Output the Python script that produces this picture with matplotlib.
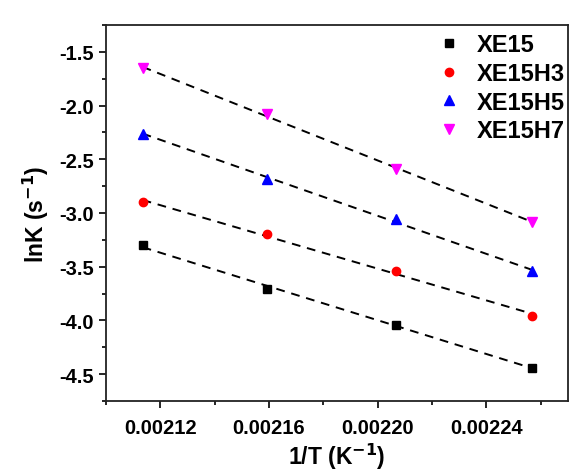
import numpy as np
import matplotlib.pyplot as plt
from matplotlib.ticker import MultipleLocator

plt.rcParams['font.family'] = ['Liberation Sans', 'DejaVu Sans']
plt.rcParams['font.weight'] = 'bold'

# 1/T for 473.15, 463.15, 453.15, 443.15 K
temps = [473.15, 463.15, 453.15, 443.15]
inv_t = [1.0 / t for t in temps]

xe15 = [-3.30, -3.71, -4.04, -4.44]
xe15h3 = [-2.90, -3.20, -3.54, -3.96]
xe15h5 = [-2.26, -2.68, -3.06, -3.54]
xe15h7 = [-1.65, -2.08, -2.59, -3.08]

series = [
    ('XE15', xe15, 's', 'black', 6),
    ('XE15H3', xe15h3, 'o', 'red', 6),
    ('XE15H5', xe15h5, '^', 'blue', 7),
    ('XE15H7', xe15h7, 'v', 'magenta', 7),
]

fig = plt.figure(figsize=(5.70, 4.77), dpi=100)
ax = fig.add_axes([106 / 570, 1 - 402 / 477, 462 / 570, 376 / 477])

x = np.array(inv_t)
for name, vals, mk, col, size in series:
    # linear fit line (Arrhenius)
    k, b = np.polyfit(x, vals, 1)
    ax.plot(x, k * x + b, '--', color='black', lw=1.4, dashes=(4.5, 3.5), zorder=1)
    ax.plot(x, vals, mk, color=col, ms=size, ls='none', label=name, zorder=2)

ax.set_xlim(0.00210, 0.00227)
ax.set_ylim(-4.75, -1.25)
ax.xaxis.set_major_locator(MultipleLocator(0.00004))
ax.xaxis.set_minor_locator(MultipleLocator(0.00002))
ax.yaxis.set_major_locator(MultipleLocator(0.5))
ax.yaxis.set_minor_locator(MultipleLocator(0.25))
ax.xaxis.set_major_formatter(plt.FuncFormatter(lambda v, p: f'{v:.5f}'))
ax.yaxis.set_major_formatter(plt.FuncFormatter(lambda v, p: f'{v:.1f}'))

ax.tick_params(which='both', direction='out', top=False, right=False,
               labelsize=14.5, width=1.2)
ax.tick_params(axis='x', pad=7)
ax.tick_params(which='major', length=5)
ax.tick_params(which='minor', length=3)
for s in ax.spines.values():
    s.set_linewidth(1.3)
    s.set_color('#222222')

ax.set_xlabel('1/T (K$^{\\mathbf{-1}}$)', fontsize=16.5, fontweight='bold', labelpad=3)
ax.set_ylabel('lnK (s$^{\\mathbf{-1}}$)', fontsize=16.5, fontweight='bold', labelpad=6)

leg = ax.legend(loc='upper right', frameon=False, fontsize=17, handletextpad=0.65,
                labelspacing=0.24, borderaxespad=0.0, borderpad=0.15,
                handlelength=1.0, markerscale=1.0,
                bbox_to_anchor=(1.0, 0.987))
for t in leg.get_texts():
    t.set_fontweight('bold')

fig.savefig('out.png', dpi=100)
